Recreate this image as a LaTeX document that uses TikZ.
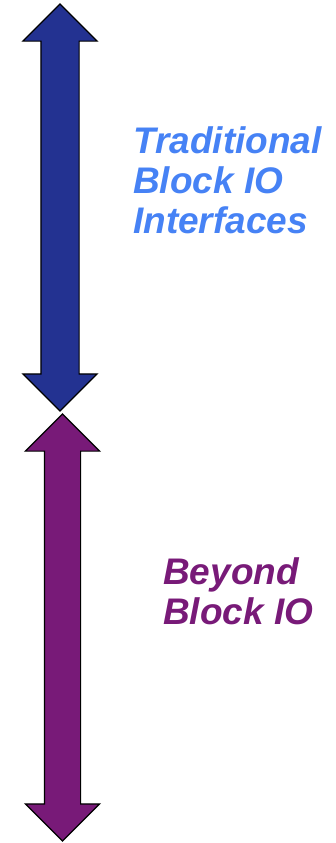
\documentclass[tikz,border=0pt]{standalone}
\usepackage{fontspec}
\setmainfont{Liberation Sans}
\usepackage{xcolor}
\usepackage{tikz}
\usetikzlibrary{shapes.arrows}
\usetikzlibrary{positioning}

\definecolor{ioblue}{RGB}{35,50,145}
\definecolor{iotext}{RGB}{70,130,245}
\definecolor{iopurple}{RGB}{120,26,120}

\begin{document}
\begin{tikzpicture}[x=1pt,y=-1pt,
  updown/.style={double arrow, draw=black, line width=1.2pt, rotate=90,
    double arrow tip angle=90, inner xsep=0pt, text height=0pt, text depth=0pt},
  tag/.style={anchor=north west, inner sep=0pt, align=left,
    font=\fontsize{37}{40}\selectfont\bfseries\itshape}]
\useasboundingbox (0,0) rectangle (335,843);
\node[updown, fill=ioblue, minimum height=407pt, inner ysep=18.5pt, double arrow head extend=18pt] (trad) at (60,207.5) {};
\node[updown, fill=iopurple, minimum height=427pt, inner ysep=17.5pt, double arrow head extend=19pt] (beyond) at (62.5,627.5) {};
\node[tag, text=iotext] (tradtext) at (133,126) {Traditional\\Block IO\\Interfaces};
\node[tag, text=iopurple] (beyondtext) at (163,557) {Beyond\\Block IO};
\end{tikzpicture}
\end{document}
